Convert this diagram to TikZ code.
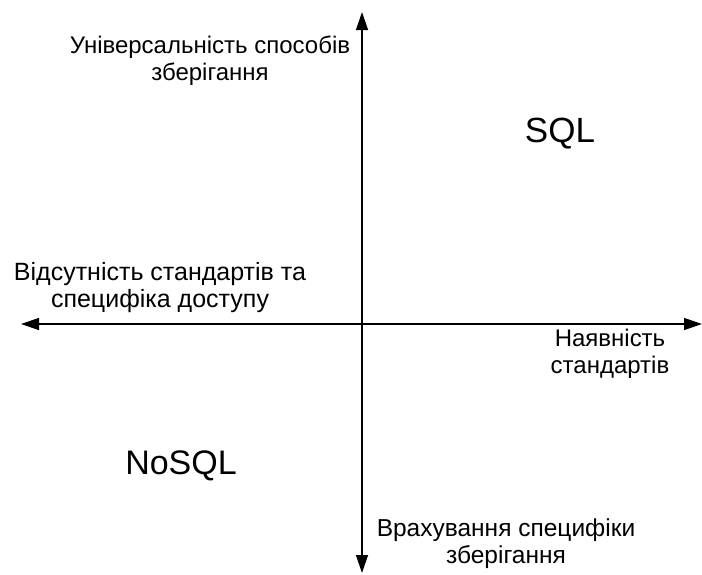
\documentclass[tikz,border=0pt]{standalone}
\usepackage{fontspec}
\setmainfont{Liberation Sans}
\usetikzlibrary{arrows.meta}
\begin{document}
\begin{tikzpicture}[x=1pt,y=-1pt,
  axis/.style={line width=1.3pt,-{Triangle[length=18pt,width=12pt]}},
  lbl/.style={font=\fontsize{24}{27}\selectfont,align=center,inner sep=0pt},
  big/.style={font=\fontsize{35}{38}\selectfont,inner sep=0pt}]
\useasboundingbox (0,0) rectangle (702,574);
\coordinate (o) at (362,324);
\coordinate (top) at (362,12);
\coordinate (bot) at (362,573);
\coordinate (left) at (21,324);
\coordinate (right) at (702,324);
\draw[axis] (o) -- (top);
\draw[axis] (o) -- (bot);
\draw[axis] (o) -- (left);
\draw[axis] (o) -- (right);
\node[lbl] (tl) at (210,61) {Універсальність способів\\зберігання};
\node[lbl,font=\fontsize{25}{27}\selectfont] (ml) at (160,288) {Відсутність стандартів та\\специфіка доступу};
\node[lbl] (mr) at (610,354) {Наявність\\стандартів};
\node[lbl,font=\fontsize{24.5}{27}\selectfont] (br) at (506,544) {Врахування специфіки\\зберігання};
\node[big] (sql) at (560,134) {SQL};
\node[big,font=\fontsize{34}{38}\selectfont] (nosql) at (181,466) {NoSQL};
\end{tikzpicture}
\end{document}
